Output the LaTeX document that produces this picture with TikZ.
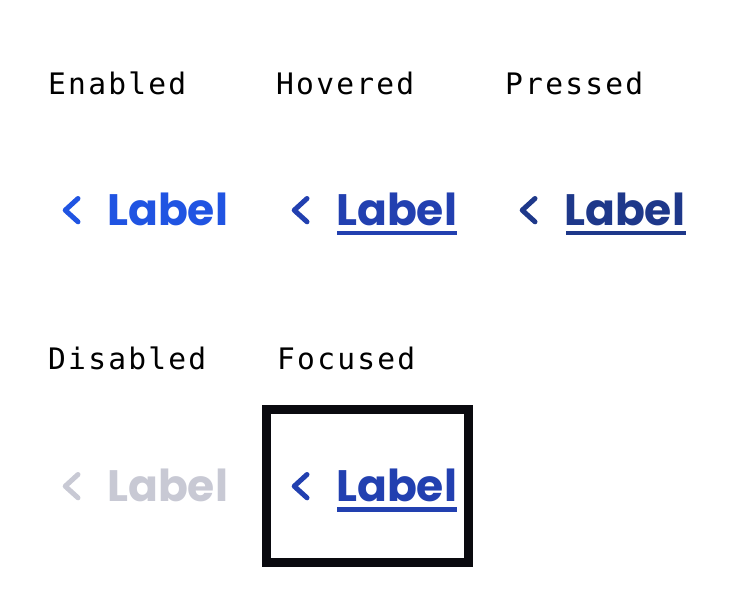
\documentclass[tikz,border=0pt]{standalone}
\usepackage{fontspec}
\setmonofont{DejaVu Sans Mono}[LetterSpace=7.5]
\newfontfamily\linkfont{Poppins}[UprightFont=* Bold]
\definecolor{enabledblue}{RGB}{32,84,226}
\definecolor{hoverblue}{RGB}{34,64,176}
\definecolor{pressblue}{RGB}{30,56,138}
\definecolor{offgrey}{RGB}{200,201,212}
\definecolor{ringblack}{RGB}{10,10,15}
\begin{document}
\begin{tikzpicture}[x=1pt, y=-1pt,
        caption/.style={anchor=base west, inner sep=0pt, font=\ttfamily\fontsize{29.6}{30}\selectfont},
        linklabel/.style={anchor=base west, inner sep=0pt, font=\linkfont\fontsize{44}{44}\selectfont},
        chevron/.style={line width=5pt, line cap=round, line join=round},
        uline/.style={line width=4.6pt}]
        \useasboundingbox (0,0) rectangle (735,600);

        \node[caption] (Cen) at (48, 94.3) {Enabled};
        \node[caption] (Cho) at (276, 94.3) {Hovered};
        \node[caption] (Cpr) at (505, 94.3) {Pressed};
        \node[caption] (Cdi) at (48, 369.5) {Disabled};
        \node[caption] (Cfo) at (277, 369.5) {Focused};

        \node[linklabel, text=enabledblue] (Len) at (107, 225.7) {Label};
        \node[linklabel, text=hoverblue]   (Lho) at (336, 225.7) {Label};
        \node[linklabel, text=pressblue]   (Lpr) at (564, 225.7) {Label};
        \node[linklabel, text=offgrey]     (Ldi) at (107, 501.5) {Label};
        \node[linklabel, text=hoverblue]   (Lfo) at (336, 501.5) {Label};

        \node[draw=ringblack, line width=9pt, minimum width=201.8pt, minimum height=152.7pt] (Fbox) at (367.4, 485.9) {};

        \draw[chevron, enabledblue] (78, 198.5) -- (65.2, 210.2) -- (78, 221.8);
        \draw[chevron, hoverblue]   (307, 198.5) -- (294.2, 210.2) -- (307, 221.8);
        \draw[chevron, pressblue]   (535, 198.5) -- (522.2, 210.2) -- (535, 221.8);
        \draw[chevron, offgrey]     (78, 474.5) -- (65.2, 486.2) -- (78, 497.8);
        \draw[chevron, hoverblue]   (307, 474.5) -- (294.2, 486.2) -- (307, 497.8);

        \draw[uline, hoverblue] (337, 233) -- (456.7, 233);
        \draw[uline, pressblue] (566, 233) -- (685.5, 233);
        \draw[uline, hoverblue] (337, 509.2) -- (456.7, 509.2);
    \end{tikzpicture}
\end{document}
